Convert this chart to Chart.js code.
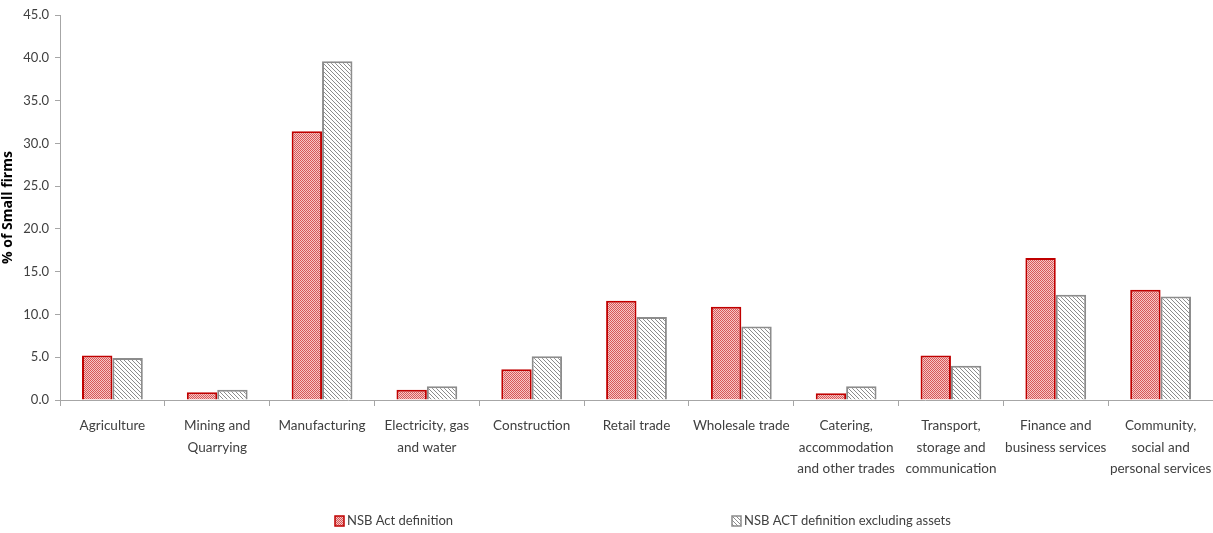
<!DOCTYPE html>
<html lang="en">
<head>
    <meta charset="UTF-8">
    <title>Small firms by sector</title>
    <script src="https://cdn.jsdelivr.net/npm/chart.js"></script>
    <style>
        html, body { margin: 0; padding: 0; background: #fff; }
        #wrap { width: 1213px; height: 533px; }
    </style>
</head>
<body>
    <div id="wrap"><canvas id="sectorChart"></canvas></div>
    <script>
        const sectors = [
            'Agriculture',
            ['Mining and', 'Quarrying'],
            'Manufacturing',
            ['Electricity, gas', 'and water'],
            'Construction',
            'Retail trade',
            'Wholesale trade',
            ['Catering,', 'accommodation', 'and other trades'],
            ['Transport,', 'storage and', 'communication'],
            ['Finance and', 'business services'],
            ['Community,', 'social and', 'personal services']
        ];
        const nsbAct = [5.2, 0.9, 31.4, 1.2, 3.6, 11.6, 10.9, 0.8, 5.2, 16.6, 12.9];
        const nsbExclAssets = [4.9, 1.2, 39.6, 1.6, 5.1, 9.7, 8.6, 1.6, 4.0, 12.3, 12.1];
        const seriesNames = ['NSB Act definition', 'NSB ACT definition excluding assets'];

        // fill patterns like the office chart
        function checkerPattern() {
            const c = document.createElement('canvas');
            c.width = 2; c.height = 2;
            const g = c.getContext('2d');
            g.fillStyle = '#f7c6c6';
            g.fillRect(0, 0, 2, 2);
            g.fillStyle = '#d65858';
            g.fillRect(0, 0, 1, 1);
            g.fillRect(1, 1, 1, 1);
            return g.createPattern(c, 'repeat');
        }
        function stripePattern() {
            const c = document.createElement('canvas');
            c.width = 4; c.height = 4;
            const g = c.getContext('2d');
            g.fillStyle = '#ffffff';
            g.fillRect(0, 0, 4, 4);
            g.fillStyle = '#8c8c8c';
            for (let i = 0; i < 4; i++) {
                g.fillRect(i, i, 1, 1);
            }
            return g.createPattern(c, 'repeat');
        }

        const redFill = checkerPattern();
        const greyFill = stripePattern();
        const font = 'Lato';
        const textColor = '#404040';
        const axisColor = '#a6a6a6';

        // legend drawn by hand, items spread wide like the original
        const spreadLegend = {
            id: 'spreadLegend',
            afterDraw(chart) {
                const ctx = chart.ctx;
                const y = 521;
                const xs = [335, 732];
                ctx.save();
                ctx.font = '13px ' + font;
                ctx.textBaseline = 'middle';
                ctx.textAlign = 'left';
                chart.data.datasets.forEach((ds, i) => {
                    ctx.fillStyle = ds.backgroundColor;
                    ctx.fillRect(xs[i], y - 5, 9, 10);
                    ctx.strokeStyle = ds.borderColor;
                    ctx.lineWidth = 1.5;
                    ctx.strokeRect(xs[i], y - 5, 9, 10);
                    ctx.fillStyle = textColor;
                    ctx.fillText(ds.label, xs[i] + 12, y);
                });
                ctx.restore();
            }
        };

        new Chart(document.getElementById('sectorChart'), {
            type: 'bar',
            data: {
                labels: sectors,
                datasets: [
                    {
                        label: seriesNames[0],
                        data: nsbAct,
                        backgroundColor: redFill,
                        borderColor: '#c00000',
                        borderWidth: 2,
                        borderSkipped: 'bottom'
                    },
                    {
                        label: seriesNames[1],
                        data: nsbExclAssets,
                        backgroundColor: greyFill,
                        borderColor: '#8c8c8c',
                        borderWidth: 2,
                        borderSkipped: 'bottom'
                    }
                ]
            },
            options: {
                responsive: true,
                maintainAspectRatio: false,
                animation: false,
                categoryPercentage: 0.58,
                barPercentage: 1,
                layout: { padding: { top: 15, right: 0, bottom: 43, left: 0 } },
                plugins: {
                    legend: { display: false },
                    tooltip: { enabled: false }
                },
                scales: {
                    x: {
                        grid: {
                            drawOnChartArea: false,
                            drawTicks: true,
                            tickLength: 6,
                            color: axisColor
                        },
                        border: { color: axisColor },
                        ticks: {
                            color: textColor,
                            font: { family: font, size: 13.5, lineHeight: 1.6 },
                            maxRotation: 0,
                            autoSkip: false,
                            padding: 9
                        },
                        afterFit(scale) {
                            scale.height = 90;
                            scale.paddingLeft = 0;
                            scale.paddingRight = 0;
                        }
                    },
                    y: {
                        min: 0,
                        max: 45,
                        grid: {
                            drawOnChartArea: false,
                            drawTicks: true,
                            tickLength: 5,
                            color: axisColor
                        },
                        border: { color: axisColor },
                        ticks: {
                            stepSize: 5,
                            color: textColor,
                            font: { family: font, size: 13 },
                            padding: 6,
                            callback: v => v.toFixed(1)
                        },
                        title: {
                            display: true,
                            text: '% of Small firms',
                            color: '#000',
                            font: { family: 'Open Sans', size: 14, weight: 'bold' },
                            padding: 0
                        },
                        afterFit(scale) { scale.width = 60; }
                    }
                }
            },
            plugins: [spreadLegend]
        });
    </script>
</body>
</html>
